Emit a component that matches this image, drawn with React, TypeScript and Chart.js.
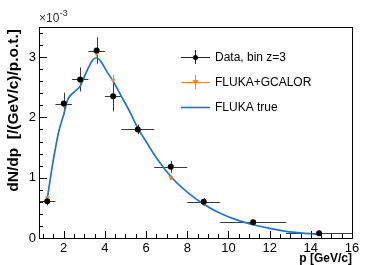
import React, { useEffect, useRef } from "react";
import { Chart, registerables } from "chart.js";

Chart.register(...registerables);

// Bin centres and edges (p in GeV/c)
const pCenters = [1.2, 2.0, 2.8, 3.6, 4.4, 5.6, 7.2, 8.8, 11.2, 14.4];
const binLo = [0.8, 1.6, 2.4, 3.2, 4.0, 4.8, 6.4, 8.0, 9.6, 12.8];
const binHi = [1.6, 2.4, 3.2, 4.0, 4.8, 6.4, 8.0, 9.6, 12.8, 16.0];

// Data, bin z=3 (x 10^-3)
const dataValues = [0.61, 2.23, 2.63, 3.11, 2.35, 1.8, 1.18, 0.6, 0.26, 0.08];
const dataErrors = [0.07, 0.18, 0.2, 0.22, 0.25, 0.08, 0.1, 0.06, 0.03, 0.02];

// FLUKA+GCALOR (x 10^-3)
const gcalorValues = [0.67, 2.2, 2.6, 3.05, 2.62, 1.8, 1.0, 0.57, 0.25, 0.07];
const gcalorErrors = [0.04, 0.07, 0.07, 0.08, 0.09, 0.05, 0.04, 0.03, 0.02, 0.01];

// FLUKA true curve (x 10^-3)
const trueP = [1.2, 1.45, 1.75, 2.0, 2.2, 2.5, 2.8, 3.1, 3.4, 3.6, 3.8, 4.1, 4.4, 4.8, 5.2, 5.6, 6.0, 6.5, 7.2, 8.0, 8.8, 9.6, 10.4, 11.2, 12.0, 12.8, 13.6, 14.4];
const trueValues = [0.65, 1.2, 1.75, 2.05, 2.3, 2.42, 2.52, 2.75, 2.95, 2.99, 2.93, 2.76, 2.6, 2.35, 2.1, 1.82, 1.6, 1.33, 1.02, 0.76, 0.56, 0.41, 0.3, 0.22, 0.16, 0.11, 0.08, 0.06];

const xTickLabels = [2, 4, 6, 8, 10, 12, 14, 16];
const yTickLabels = [0, 1, 2, 3];

const X_MIN = 0.8, X_MAX = 16, Y_MIN = 0, Y_MAX = 3.5;
const FONT = "'Liberation Sans', Arial, sans-serif";
const BLUE = "#1f74d4";
const ORANGE = "#f7822e";

const rootPlugin = {
  id: "rootStyle",
  beforeDatasetsDraw(chart: any) {
    const { ctx } = chart;
    const xs = chart.scales.x, ys = chart.scales.y;
    ctx.save();
    ctx.lineWidth = 1;
    // orange error bars (vertical only visible)
    ctx.strokeStyle = ORANGE;
    ctx.beginPath();
    for (let i = 0; i < pCenters.length; i++) {
      const px = Math.round(xs.getPixelForValue(pCenters[i])) + 0.5;
      ctx.moveTo(px, ys.getPixelForValue(gcalorValues[i] - gcalorErrors[i]));
      ctx.lineTo(px, ys.getPixelForValue(gcalorValues[i] + gcalorErrors[i]));
    }
    ctx.stroke();
    // data error bars
    ctx.strokeStyle = "#3a3a3a";
    ctx.beginPath();
    for (let i = 0; i < pCenters.length; i++) {
      const px = Math.round(xs.getPixelForValue(pCenters[i])) + 0.5;
      const py = Math.round(ys.getPixelForValue(dataValues[i])) + 0.5;
      ctx.moveTo(xs.getPixelForValue(binLo[i]), py);
      ctx.lineTo(xs.getPixelForValue(binHi[i]), py);
      ctx.moveTo(px, ys.getPixelForValue(dataValues[i] - dataErrors[i]));
      ctx.lineTo(px, ys.getPixelForValue(dataValues[i] + dataErrors[i]));
    }
    ctx.stroke();
    ctx.restore();
  },
  afterDraw(chart: any) {
    const { ctx, chartArea: a } = chart;
    const xs = chart.scales.x, ys = chart.scales.y;
    ctx.save();
    // frame
    ctx.strokeStyle = "#000";
    ctx.lineWidth = 1;
    ctx.strokeRect(Math.round(a.left) + 0.5, Math.round(a.top) + 0.5, Math.round(a.right - a.left), Math.round(a.bottom - a.top));
    // x ticks
    ctx.beginPath();
    for (let v = 1.0; v <= X_MAX + 1e-6; v += 0.5) {
      const px = Math.round(xs.getPixelForValue(v)) + 0.5;
      const major = Math.abs(v / 2 - Math.round(v / 2)) < 1e-6;
      ctx.moveTo(px, a.bottom);
      ctx.lineTo(px, a.bottom - (major ? 7 : 4));
    }
    // y ticks
    for (let v = 0.2; v <= Y_MAX + 1e-6; v += 0.2) {
      const py = Math.round(ys.getPixelForValue(v)) + 0.5;
      const major = Math.abs(v - Math.round(v)) < 1e-6;
      ctx.moveTo(a.left, py);
      ctx.lineTo(a.left + (major ? 8 : 4), py);
    }
    ctx.stroke();
    // tick labels
    ctx.fillStyle = "#000";
    ctx.font = `13px ${FONT}`;
    ctx.textAlign = "center";
    ctx.textBaseline = "top";
    for (const v of xTickLabels) {
      ctx.fillText(String(v), xs.getPixelForValue(v), a.bottom + 4);
    }
    ctx.textAlign = "right";
    ctx.textBaseline = "middle";
    for (const v of yTickLabels) {
      ctx.fillText(String(v), a.left - 3, ys.getPixelForValue(v));
    }
    // exponent
    ctx.textAlign = "left";
    ctx.textBaseline = "alphabetic";
    ctx.fillStyle = "#333";
    ctx.font = `12px ${FONT}`;
    ctx.fillText("\u00d710", a.left, a.top - 5);
    const w = ctx.measureText("\u00d710").width;
    ctx.font = `9px ${FONT}`;
    ctx.fillText("-3", a.left + w + 0.5, a.top - 11);
    // axis titles
    ctx.fillStyle = "#000";
    ctx.font = `bold 12px ${FONT}`;
    ctx.textAlign = "right";
    ctx.textBaseline = "alphabetic";
    ctx.fillText("p [GeV/c]", a.right, 262);
    ctx.save();
    ctx.font = `bold 15.5px ${FONT}`;
    ctx.translate(18, a.top + 2);
    ctx.rotate(-Math.PI / 2);
    ctx.textAlign = "right";
    ctx.fillText("dN/dp  [/(GeV/c)/p.o.t.]", 0, 0);
    ctx.restore();
    // legend
    const lx0 = 181, lx1 = 210, lxm = 195, tx = 215;
    const rows = [57, 82, 107];
    ctx.font = `12px ${FONT}`;
    ctx.textAlign = "left";
    ctx.textBaseline = "middle";
    ctx.lineWidth = 1;
    // row 1: data
    ctx.strokeStyle = "#222";
    ctx.beginPath();
    ctx.moveTo(lx0, rows[0] + 0.5); ctx.lineTo(lx1, rows[0] + 0.5);
    ctx.moveTo(lxm + 0.5, rows[0] - 7); ctx.lineTo(lxm + 0.5, rows[0] + 7);
    ctx.stroke();
    ctx.fillStyle = "#000";
    ctx.beginPath(); ctx.arc(lxm + 0.5, rows[0] + 0.5, 2.5, 0, Math.PI * 2); ctx.fill();
    ctx.fillText("Data, bin z=3", tx, rows[0] + 1);
    // row 2: gcalor
    ctx.strokeStyle = ORANGE;
    ctx.beginPath();
    ctx.moveTo(lx0, rows[1] + 0.5); ctx.lineTo(lx1, rows[1] + 0.5);
    ctx.moveTo(lxm + 0.5, rows[1] - 7); ctx.lineTo(lxm + 0.5, rows[1] + 7);
    ctx.stroke();
    ctx.fillStyle = ORANGE;
    ctx.beginPath();
    ctx.moveTo(lxm - 2.5, rows[1] - 2); ctx.lineTo(lxm + 3.5, rows[1] - 2); ctx.lineTo(lxm + 0.5, rows[1] + 3); ctx.closePath(); ctx.fill();
    ctx.fillStyle = "#000";
    ctx.fillText("FLUKA+GCALOR", tx, rows[1] + 1);
    // row 3: true
    ctx.strokeStyle = BLUE;
    ctx.lineWidth = 1.6;
    ctx.beginPath();
    ctx.moveTo(lx0, rows[2] + 0.5); ctx.lineTo(lx1, rows[2] + 0.5);
    ctx.stroke();
    ctx.fillText("FLUKA true", tx, rows[2] + 1);
    ctx.restore();
  },
};

export default function App() {
  const ref = useRef<HTMLCanvasElement>(null);
  useEffect(() => {
    if (!ref.current) return;
    const chart = new Chart(ref.current, {
      type: "scatter",
      data: {
        datasets: [
          {
            label: "Data, bin z=3",
            data: pCenters.map((x, i) => ({ x, y: dataValues[i] })),
            backgroundColor: "#000",
            borderColor: "#000",
            pointRadius: 3,
            pointBorderWidth: 0,
            showLine: false,
            order: 0,
          },
          {
            label: "FLUKA+GCALOR",
            data: pCenters.map((x, i) => ({ x, y: gcalorValues[i] })),
            backgroundColor: ORANGE,
            borderColor: ORANGE,
            pointStyle: "triangle",
            rotation: 180,
            pointRadius: 2.8,
            pointBorderWidth: 0,
            showLine: false,
            order: 1,
          },
          {
            label: "FLUKA true",
            data: trueP.map((x, i) => ({ x, y: trueValues[i] })),
            borderColor: BLUE,
            borderWidth: 1.7,
            pointRadius: 0,
            showLine: true,
            cubicInterpolationMode: "monotone",
            order: 2,
          } as any,
        ],
      },
      options: {
        animation: false,
        responsive: false,
        maintainAspectRatio: false,
        layout: { padding: { left: 39, top: 27, right: 39, bottom: 27 } },
        plugins: { legend: { display: false }, tooltip: { enabled: false } },
        scales: {
          x: { type: "linear", min: X_MIN, max: X_MAX, display: false },
          y: { type: "linear", min: Y_MIN, max: Y_MAX, display: false },
        },
      },
      plugins: [rootPlugin],
    });
    return () => chart.destroy();
  }, []);
  return (
    <div style={{ position: "fixed", left: 0, top: 0, width: 391, height: 265, background: "#fff" }}>
      <canvas ref={ref} width={391} height={265} style={{ width: 391, height: 265 }} />
    </div>
  );
}
